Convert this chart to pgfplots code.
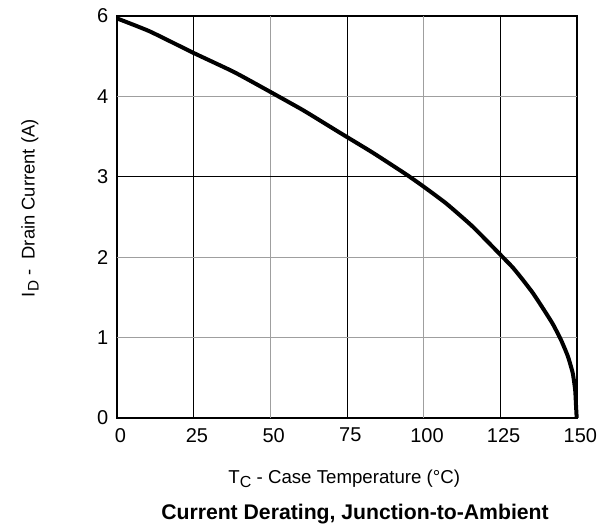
\documentclass[border=0pt]{standalone}
\usepackage{pgfplots}
\pgfplotsset{compat=1.18}
\usepackage{fontspec}
\setmainfont{Liberation Sans}
\begin{document}
\begin{tikzpicture}
\useasboundingbox (-87.75pt,-81.75pt) rectangle (371.25pt,313.5pt);
\begin{axis}[
  at={(0,0)}, anchor=south west,
  scale only axis,
  width=345pt, height=301.5pt,
  xmin=0, xmax=150, ymin=0, ymax=5,
  xtick={0,25,50,75,100,125,150},
  ytick={0,1,2,3,4,5},
  yticklabels={0,1,2,3,4,6},
  /pgf/number format/assume math mode=true,
  tick label style={font=\fontsize{15}{17}\selectfont},
  major tick length=0pt,
  xticklabel style={yshift=-4pt, xshift=2.5pt},
  yticklabel style={xshift=-3pt},
  axis line style={line width=1.5pt},
  clip=false,
  xlabel={T\raisebox{-0.4ex}{\fontsize{12}{12}\selectfont C} - Case Temperature (°C)},
  xlabel style={at={(axis description cs:0.5,0)}, anchor=base, xshift=-2pt, yshift=-49pt, font=\fontsize{14}{16}\selectfont},
  ylabel={I\raisebox{-0.4ex}{\fontsize{11.5}{11.5}\selectfont D} -\ \ Drain Current (A)},
  ylabel style={at={(axis description cs:-0.179,0.522)}, anchor=base, font=\fontsize{13.8}{16}\selectfont},
  title={Current Derating, Junction-to-Ambient},
  title style={at={(axis description cs:0.5,0)}, anchor=base, xshift=6pt, yshift=-82pt, font=\fontsize{15.9}{17}\selectfont\bfseries},
]
% grid lines
\addplot[black, line width=0.7pt] coordinates {(25,0) (25,5)};
\addplot[gray!75, line width=0.9pt] coordinates {(50,0) (50,5)};
\addplot[black, line width=0.7pt] coordinates {(75,0) (75,5)};
\addplot[gray!75, line width=0.9pt] coordinates {(100,0) (100,5)};
\addplot[black, line width=0.7pt] coordinates {(125,0) (125,5)};
\addplot[gray!75, line width=0.9pt] coordinates {(0,1) (150,1)};
\addplot[gray!75, line width=0.9pt] coordinates {(0,2) (150,2)};
\addplot[black, line width=0.7pt] coordinates {(0,3) (150,3)};
\addplot[gray!75, line width=0.9pt] coordinates {(0,4) (150,4)};
% curve
\addplot[black, line width=3pt, smooth, tension=0.3] coordinates {
(0,4.97) (10.6,4.81) (25,4.54) (37.8,4.31) (46.5,4.13) (60.6,3.83)
(72.6,3.55) (83.4,3.30) (94.3,3.03) (99.9,2.88) (107.3,2.67) (116,2.38)
(125.3,2.02) (129.1,1.87) (132.3,1.72) (135.6,1.555) (138.8,1.37)
(142.1,1.17) (144.8,0.97) (147,0.77) (148.6,0.56) (149.4,0.35)
(149.7,0.14) (149.9,0)
};
\end{axis}
\end{tikzpicture}
\end{document}
